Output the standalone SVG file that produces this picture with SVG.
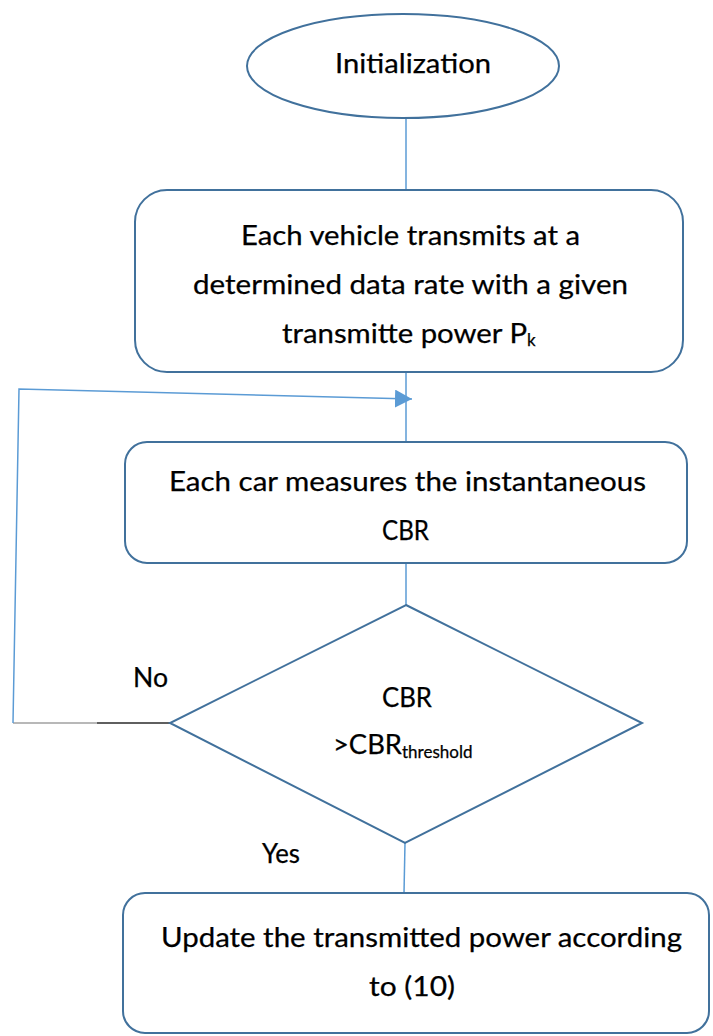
<svg xmlns="http://www.w3.org/2000/svg" width="713" height="1036" viewBox="0 0 713 1036">
<style>
.node{fill:#ffffff;stroke:#41719c;stroke-width:2}
.conn{fill:none;stroke:#5b9bd5;stroke-width:1.5}
.t{font-family:Lato,"Open Sans","Liberation Sans",sans-serif;font-size:27px;fill:#000000;stroke:#000000;stroke-width:0.25}
.sub{font-size:17px}
</style>
<defs>
<marker id="arr" markerUnits="userSpaceOnUse" markerWidth="18" markerHeight="18" refX="17" refY="9" orient="auto">
<path d="M0,0 L17,9 L0,18 Z" fill="#5b9bd5"/>
</marker>
</defs>
<rect width="713" height="1036" fill="#ffffff"/>
<g id="connectors">
<line class="conn" x1="406" y1="118" x2="406" y2="190"/>
<line class="conn" x1="406" y1="372" x2="406" y2="442"/>
<line class="conn" x1="406" y1="563" x2="406" y2="605"/>
<line class="conn" x1="405" y1="843" x2="404" y2="893"/>
<line x1="170" y1="723" x2="97" y2="723" stroke="#2a2a2a" stroke-width="1.5"/>
<line x1="97" y1="723" x2="13" y2="723" stroke="#a0a0a0" stroke-width="1.5"/>
<polyline class="conn" points="13,723 19,389 412,399" marker-end="url(#arr)"/>
</g>
<g id="start">
<ellipse class="node" cx="403" cy="66" rx="156" ry="52"/>
<text class="t" x="335" y="73" textLength="156" lengthAdjust="spacingAndGlyphs">Initialization</text>
</g>
<g id="transmit">
<rect class="node" x="135" y="190" width="548" height="182" rx="32"/>
<text class="t" x="241" y="245" textLength="339" lengthAdjust="spacingAndGlyphs">Each vehicle transmits at a</text>
<text class="t" x="193" y="294" textLength="435" lengthAdjust="spacingAndGlyphs">determined data rate with a given</text>
<text class="t" x="282" y="343"><tspan textLength="245" lengthAdjust="spacingAndGlyphs">transmitte power P</tspan><tspan class="sub" dy="3">k</tspan></text>
</g>
<g id="measure">
<rect class="node" x="125" y="442" width="562" height="121" rx="22"/>
<text class="t" x="169" y="491" textLength="477" lengthAdjust="spacingAndGlyphs">Each car measures the instantaneous</text>
<text class="t" x="382" y="540" textLength="47" lengthAdjust="spacingAndGlyphs">CBR</text>
</g>
<g id="decision">
<polygon class="node" points="406,605 642,723 405,843 170,723"/>
<text class="t" x="382" y="707" textLength="50" lengthAdjust="spacingAndGlyphs">CBR</text>
<text class="t" x="333" y="754"><tspan textLength="69" lengthAdjust="spacingAndGlyphs">&gt;CBR</tspan><tspan class="sub" dy="4" font-size="18">threshold</tspan></text>
</g>
<g id="labels">
<text class="t" x="133" y="687" textLength="35" lengthAdjust="spacingAndGlyphs">No</text>
<text class="t" x="262" y="863" textLength="38" lengthAdjust="spacingAndGlyphs">Yes</text>
</g>
<g id="update">
<rect class="node" x="123" y="893" width="586" height="140" rx="22"/>
<text class="t" x="161" y="947" textLength="521" lengthAdjust="spacingAndGlyphs">Update the transmitted power according</text>
<text class="t" x="369" y="996" textLength="86" lengthAdjust="spacingAndGlyphs">to (10)</text>
</g>
</svg>
